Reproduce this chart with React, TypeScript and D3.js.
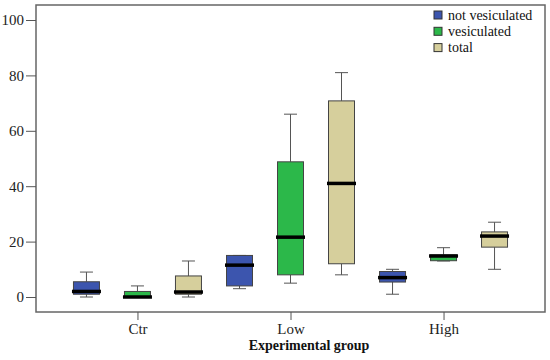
import { useEffect, useRef } from 'react';
import * as d3 from 'd3';

const groups = ['Ctr', 'Low', 'High'];
const seriesNames = ['not vesiculated', 'vesiculated', 'total'];
const seriesColors = ['#3c55ae', '#2cb84a', '#d6cf9c'];
const yTicks = [0, 20, 40, 60, 80, 100];

// [min, q1, median, q3, max] per group
const notVesiculated = [
  [0, 1, 2, 5.5, 9],
  [3, 4, 11.5, 15, 15],
  [1, 5.4, 7, 9.2, 10],
];
const vesiculated = [
  [0, 0, 0, 2, 4],
  [5, 8, 21.6, 48.8, 66],
  [13, 13.1, 14.8, 15.2, 17.8],
];
const total = [
  [0, 1, 1.8, 7.6, 13],
  [8, 12, 41, 70.8, 81],
  [10, 18, 22, 23.5, 27],
];
const allSeries = [notVesiculated, vesiculated, total];

const App = () => {
  const ref = useRef<SVGSVGElement>(null);

  useEffect(() => {
    const left = 36, right = 545, top = 5, bottom = 312;

    const svg = d3.select(ref.current);
    svg.selectAll('*').remove();

    const x = d3.scalePoint().domain(groups).range([left, right]).padding(0.663);
    const y = d3.scaleLinear().domain([0, 100]).range([297, 20]);
    const offset = d3.scalePoint().domain(seriesNames).range([-51, 51]);
    const boxW = 26;
    const capW = 13;

    const font = '"Liberation Serif", "Times New Roman", serif';

    // frame
    svg.append('rect')
      .attr('x', left).attr('y', top)
      .attr('width', right - left).attr('height', bottom - top)
      .attr('fill', 'none').attr('stroke', '#666').attr('stroke-width', 1.5);

    // y axis
    const yAxis = svg.append('g')
      .attr('transform', `translate(${left},0)`)
      .call(d3.axisLeft(y).tickValues(yTicks).tickSize(10).tickPadding(2));
    yAxis.select('.domain').remove();
    yAxis.selectAll('line').attr('stroke', '#555');
    yAxis.selectAll('text').attr('fill', '#222').style('font-family', font).style('font-size', '15px');

    // x axis
    const xAxis = svg.append('g')
      .attr('transform', `translate(0,${bottom})`)
      .call(d3.axisBottom(x).tickSize(8).tickPadding(3));
    xAxis.select('.domain').remove();
    xAxis.selectAll('line').attr('stroke', '#555');
    xAxis.selectAll('text').attr('fill', '#222').style('font-family', font).style('font-size', '15px');

    svg.append('text')
      .attr('x', 309).attr('y', 350)
      .attr('text-anchor', 'middle')
      .style('font-family', font).style('font-size', '14px').style('font-weight', 'bold')
      .attr('fill', '#111')
      .text('Experimental group');

    // boxes
    allSeries.forEach((series, si) => {
      series.forEach((d, gi) => {
        const cx = (x(groups[gi]) as number) + (offset(seriesNames[si]) as number);
        const [mn, q1, med, q3, mx] = d;
        const g = svg.append('g');
        g.append('line')
          .attr('x1', cx).attr('x2', cx).attr('y1', y(mx)).attr('y2', y(q3))
          .attr('stroke', '#555');
        g.append('line')
          .attr('x1', cx).attr('x2', cx).attr('y1', y(q1)).attr('y2', y(mn))
          .attr('stroke', '#555');
        g.append('line')
          .attr('x1', cx - capW / 2).attr('x2', cx + capW / 2).attr('y1', y(mx)).attr('y2', y(mx))
          .attr('stroke', '#555');
        g.append('line')
          .attr('x1', cx - capW / 2).attr('x2', cx + capW / 2).attr('y1', y(mn)).attr('y2', y(mn))
          .attr('stroke', '#555');
        g.append('rect')
          .attr('x', cx - boxW / 2).attr('y', y(q3))
          .attr('width', boxW).attr('height', Math.max(0, y(q1) - y(q3)))
          .attr('fill', seriesColors[si]).attr('stroke', '#444').attr('stroke-width', 1);
        g.append('line')
          .attr('x1', cx - boxW / 2 - 1.5).attr('x2', cx + boxW / 2 + 1.5)
          .attr('y1', y(med)).attr('y2', y(med))
          .attr('stroke', '#000').attr('stroke-width', 3.5);
      });
    });

    // legend
    const legend = svg.append('g').attr('transform', 'translate(434,11)');
    seriesNames.forEach((name, i) => {
      legend.append('rect')
        .attr('x', 0).attr('y', i * 16.3)
        .attr('width', 8).attr('height', 8)
        .attr('fill', seriesColors[i]).attr('stroke', '#333').attr('stroke-width', 1);
      legend.append('text')
        .attr('x', 14).attr('y', i * 16.3 + 8.5)
        .style('font-family', font).style('font-size', '14px')
        .attr('fill', '#111')
        .text(name);
    });
  }, []);

  return (
    <svg ref={ref} width={550} height={360}
      style={{ position: 'absolute', left: 0, top: 0, background: '#fff' }} />
  );
};

export default App;
